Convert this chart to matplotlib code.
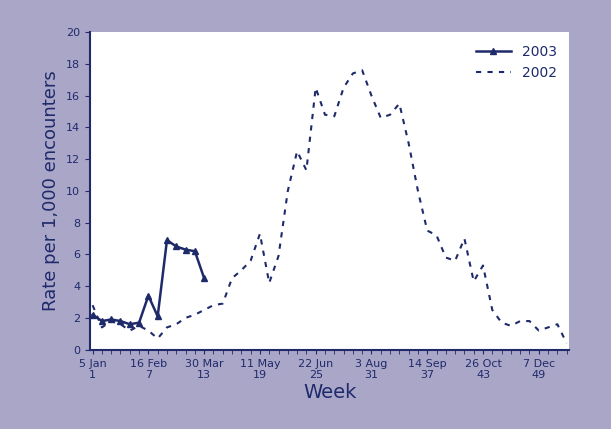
import matplotlib
matplotlib.use('Agg')
import matplotlib.pyplot as plt

weeks_2003 = list(range(1, 14))
rate_2003 = [2.2, 1.8, 1.9, 1.8, 1.6, 1.7, 3.4, 2.1, 6.9, 6.5, 6.3, 6.2, 4.5]

weeks_2002 = list(range(1, 53))
rate_2002 = [2.8, 1.4, 1.8, 1.6, 1.2, 1.5, 1.2, 0.7, 1.4, 1.6, 2.0, 2.2, 2.5,
             2.8, 2.9, 4.5, 5.0, 5.6, 7.3, 4.2, 5.9, 10.0, 12.5, 11.3, 16.5,
             14.8, 14.7, 16.5, 17.4, 17.6, 16.0, 14.6, 14.8, 15.5, 13.0, 10.0,
             7.5, 7.2, 5.8, 5.6, 7.0, 4.3, 5.3, 2.5, 1.7, 1.5, 1.8, 1.8, 1.2,
             1.4, 1.6, 0.4]

tick_weeks = [1, 7, 13, 19, 25, 31, 37, 43, 49]
tick_labels = ['5 Jan\n1', '16 Feb\n7', '30 Mar\n13', '11 May\n19', '22 Jun\n25',
               '3 Aug\n31', '14 Sep\n37', '26 Oct\n43', '7 Dec\n49']

navy = '#1f2a6b'
bg = '#aaa6c8'

fig = plt.figure(figsize=(6.11, 4.29), dpi=100, facecolor=bg)
ax = fig.add_axes([0.147, 0.185, 0.785, 0.74])
ax.set_facecolor('white')

ax.plot(weeks_2002, rate_2002, linestyle=(0, (2.5, 3)), color=navy, linewidth=1.5, label='2002')
ax.plot(weeks_2003, rate_2003, '-', color=navy, linewidth=1.8, marker='^', markersize=4, label='2003')

ax.set_xlim(0.7, 52.3)
ax.set_ylim(0, 20)
ax.set_yticks(range(0, 21, 2))
ax.set_xticks(tick_weeks)
ax.set_xticklabels(tick_labels, fontsize=8, color=navy)
ax.set_xticks(weeks_2002, minor=True)
ax.tick_params(axis='y', labelsize=8, colors=navy)
ax.tick_params(axis='x', which='both', colors=navy, length=3)

for s in ['top', 'right']:
    ax.spines[s].set_visible(False)
for s in ['left', 'bottom']:
    ax.spines[s].set_color(navy)
    ax.spines[s].set_linewidth(1.5)

ax.set_ylabel('Rate per 1,000 encounters', fontsize=13, color=navy)
ax.set_xlabel('Week', fontsize=14, color=navy, labelpad=2)

handles, labels = ax.get_legend_handles_labels()
ax.legend(handles[::-1], labels[::-1], loc='upper right', frameon=False, fontsize=10,
          labelcolor=navy, handlelength=2.5)

fig.savefig('out.png', dpi=100, facecolor=bg)
